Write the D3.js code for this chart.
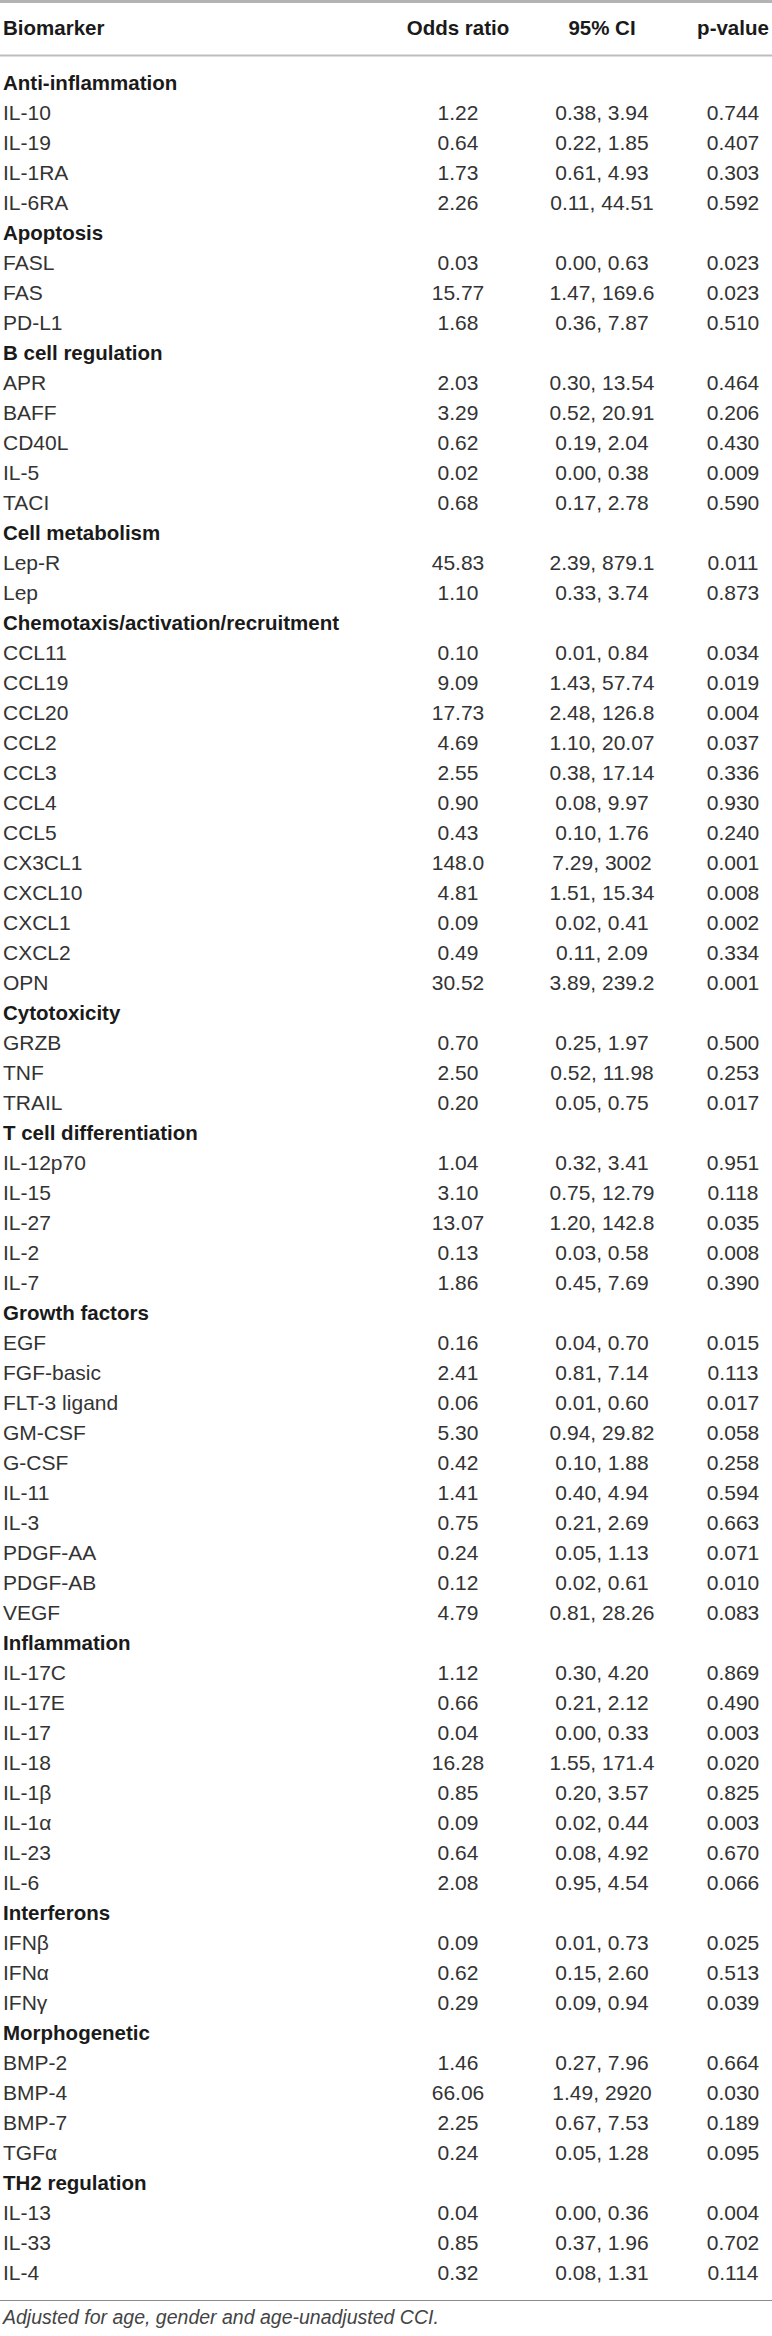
<!DOCTYPE html>
<html>
<head>
<meta charset="utf-8">
<script src="https://cdn.jsdelivr.net/npm/d3@7"></script>
<style>
  html, body { margin: 0; padding: 0; background: #fff; }
  svg text { font-family: "Liberation Sans", Arial, Helvetica, sans-serif; }
</style>
</head>
<body>
<div id="app"></div>
<script>
// Column headers of the table
const headers = ["Biomarker", "Odds ratio", "95% CI", "p-value"];

// Biomarker groups and their members
const groups = [
  "Anti-inflammation", "Apoptosis", "B cell regulation", "Cell metabolism",
  "Chemotaxis/activation/recruitment", "Cytotoxicity", "T cell differentiation",
  "Growth factors", "Inflammation", "Interferons", "Morphogenetic", "TH2 regulation"
];
const groupMarkers = [
  ["IL-10", "IL-19", "IL-1RA", "IL-6RA"],
  ["FASL", "FAS", "PD-L1"],
  ["APR", "BAFF", "CD40L", "IL-5", "TACI"],
  ["Lep-R", "Lep"],
  ["CCL11", "CCL19", "CCL20", "CCL2", "CCL3", "CCL4", "CCL5", "CX3CL1", "CXCL10", "CXCL1", "CXCL2", "OPN"],
  ["GRZB", "TNF", "TRAIL"],
  ["IL-12p70", "IL-15", "IL-27", "IL-2", "IL-7"],
  ["EGF", "FGF-basic", "FLT-3 ligand", "GM-CSF", "G-CSF", "IL-11", "IL-3", "PDGF-AA", "PDGF-AB", "VEGF"],
  ["IL-17C", "IL-17E", "IL-17", "IL-18", "IL-1β", "IL-1α", "IL-23", "IL-6"],
  ["IFNβ", "IFNα", "IFNγ"],
  ["BMP-2", "BMP-4", "BMP-7", "TGFα"],
  ["IL-13", "IL-33", "IL-4"]
];

// Values, in the same order as the flattened markers (kept as printed)
const oddsRatios = [
  "1.22", "0.64", "1.73", "2.26",
  "0.03", "15.77", "1.68",
  "2.03", "3.29", "0.62", "0.02", "0.68",
  "45.83", "1.10",
  "0.10", "9.09", "17.73", "4.69", "2.55", "0.90", "0.43", "148.0", "4.81", "0.09", "0.49", "30.52",
  "0.70", "2.50", "0.20",
  "1.04", "3.10", "13.07", "0.13", "1.86",
  "0.16", "2.41", "0.06", "5.30", "0.42", "1.41", "0.75", "0.24", "0.12", "4.79",
  "1.12", "0.66", "0.04", "16.28", "0.85", "0.09", "0.64", "2.08",
  "0.09", "0.62", "0.29",
  "1.46", "66.06", "2.25", "0.24",
  "0.04", "0.85", "0.32"
];
const ciLower = [
  "0.38", "0.22", "0.61", "0.11",
  "0.00", "1.47", "0.36",
  "0.30", "0.52", "0.19", "0.00", "0.17",
  "2.39", "0.33",
  "0.01", "1.43", "2.48", "1.10", "0.38", "0.08", "0.10", "7.29", "1.51", "0.02", "0.11", "3.89",
  "0.25", "0.52", "0.05",
  "0.32", "0.75", "1.20", "0.03", "0.45",
  "0.04", "0.81", "0.01", "0.94", "0.10", "0.40", "0.21", "0.05", "0.02", "0.81",
  "0.30", "0.21", "0.00", "1.55", "0.20", "0.02", "0.08", "0.95",
  "0.01", "0.15", "0.09",
  "0.27", "1.49", "0.67", "0.05",
  "0.00", "0.37", "0.08"
];
const ciUpper = [
  "3.94", "1.85", "4.93", "44.51",
  "0.63", "169.6", "7.87",
  "13.54", "20.91", "2.04", "0.38", "2.78",
  "879.1", "3.74",
  "0.84", "57.74", "126.8", "20.07", "17.14", "9.97", "1.76", "3002", "15.34", "0.41", "2.09", "239.2",
  "1.97", "11.98", "0.75",
  "3.41", "12.79", "142.8", "0.58", "7.69",
  "0.70", "7.14", "0.60", "29.82", "1.88", "4.94", "2.69", "1.13", "0.61", "28.26",
  "4.20", "2.12", "0.33", "171.4", "3.57", "0.44", "4.92", "4.54",
  "0.73", "2.60", "0.94",
  "7.96", "2920", "7.53", "1.28",
  "0.36", "1.96", "1.31"
];
const pValues = [
  "0.744", "0.407", "0.303", "0.592",
  "0.023", "0.023", "0.510",
  "0.464", "0.206", "0.430", "0.009", "0.590",
  "0.011", "0.873",
  "0.034", "0.019", "0.004", "0.037", "0.336", "0.930", "0.240", "0.001", "0.008", "0.002", "0.334", "0.001",
  "0.500", "0.253", "0.017",
  "0.951", "0.118", "0.035", "0.008", "0.390",
  "0.015", "0.113", "0.017", "0.058", "0.258", "0.594", "0.663", "0.071", "0.010", "0.083",
  "0.869", "0.490", "0.003", "0.020", "0.825", "0.003", "0.670", "0.066",
  "0.025", "0.513", "0.039",
  "0.664", "0.030", "0.189", "0.095",
  "0.004", "0.702", "0.114"
];

const footnote = "Adjusted for age, gender and age-unadjusted CCI.";

const d3 = window.d3;
const width = 772, height = 2336;

// Build the row list: a heading row per group, followed by its markers
const rows = [];
let k = 0;
groups.forEach((g, gi) => {
  rows.push({ type: "group", label: g });
  groupMarkers[gi].forEach((m) => {
    rows.push({
      type: "marker",
      label: m,
      or: oddsRatios[k],
      ci: `${ciLower[k]}, ${ciUpper[k]}`,
      p: pValues[k]
    });
    k++;
  });
});

const y = d3.scaleLinear().domain([0, rows.length - 1]).range([83, 83 + 30 * (rows.length - 1)]);
const colX = d3.scaleOrdinal().domain(headers).range([3, 458, 602, 733]);
const colAnchor = d3.scaleOrdinal().domain(headers).range(["start", "middle", "middle", "middle"]);

const svg = d3.select("#app").append("svg")
  .attr("width", width)
  .attr("height", height)
  .attr("viewBox", `0 0 ${width} ${height}`);

// Rules
svg.append("line").attr("x1", 0).attr("x2", width).attr("y1", 1.5).attr("y2", 1.5)
  .attr("stroke", "#b3b3b3").attr("stroke-width", 3);
svg.append("line").attr("x1", 0).attr("x2", width).attr("y1", 55.5).attr("y2", 55.5)
  .attr("stroke", "#bdbdbd").attr("stroke-width", 2);
const lastY = y(rows.length - 1);
svg.append("line").attr("x1", 0).attr("x2", width).attr("y1", lastY + 27.5).attr("y2", lastY + 27.5)
  .attr("stroke", "#8c8c8c").attr("stroke-width", 1);

// Header
svg.append("g").attr("class", "header")
  .selectAll("text")
  .data(headers)
  .join("text")
  .attr("x", (d) => colX(d))
  .attr("y", 28)
  .attr("dy", "0.35em")
  .attr("text-anchor", (d) => colAnchor(d))
  .attr("font-size", "20.5px")
  .attr("font-weight", 700)
  .attr("fill", "#1a1a1a")
  .text((d) => d);

// Body rows
const row = svg.append("g").attr("class", "body")
  .selectAll("g")
  .data(rows)
  .join("g")
  .attr("transform", (d, i) => `translate(0,${y(i)})`);

row.append("text")
  .attr("x", colX("Biomarker"))
  .attr("dy", "0.35em")
  .attr("font-size", (d) => d.type === "group" ? "20.5px" : "21px")
  .attr("font-weight", (d) => d.type === "group" ? 700 : 400)
  .attr("fill", (d) => d.type === "group" ? "#1a1a1a" : "#333")
  .text((d) => d.label);

const cells = [["Odds ratio", "or"], ["95% CI", "ci"], ["p-value", "p"]];
cells.forEach(([col, key]) => {
  row.filter((d) => d.type === "marker")
    .append("text")
    .attr("x", colX(col))
    .attr("dy", "0.35em")
    .attr("text-anchor", colAnchor(col))
    .attr("font-size", "21px")
    .attr("fill", "#333")
    .text((d) => d[key]);
});

// Footnote
svg.append("text")
  .attr("x", 3)
  .attr("y", lastY + 44)
  .attr("dy", "0.35em")
  .attr("font-size", "19.5px")
  .attr("font-style", "italic")
  .attr("fill", "#444")
  .text(footnote);
</script>
</body>
</html>
